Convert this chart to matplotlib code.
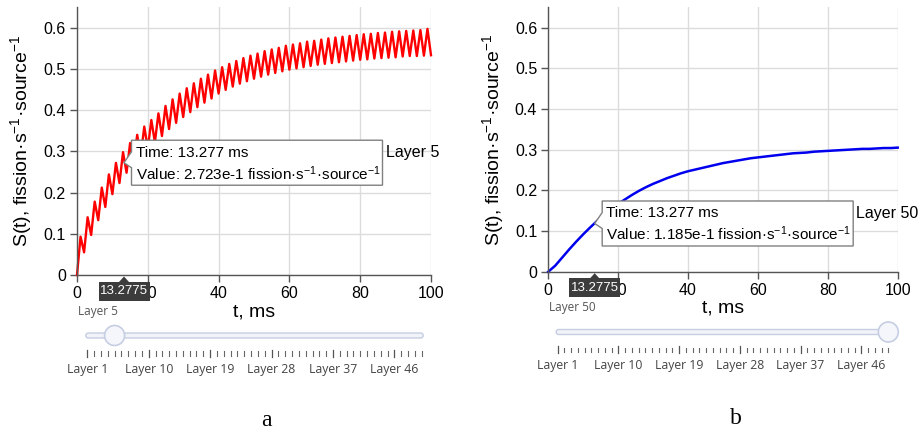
import numpy as np
import matplotlib
matplotlib.use('Agg')
import matplotlib.pyplot as plt
from matplotlib.patches import FancyBboxPatch, Circle, Polygon

plt.rcParams['font.family'] = ['Liberation Sans', 'DejaVu Sans']
plt.rcParams['mathtext.fontset'] = 'custom'
plt.rcParams['mathtext.rm'] = 'Liberation Sans'
plt.rcParams['mathtext.it'] = 'Liberation Sans:italic'
plt.rcParams['mathtext.default'] = 'regular'

# ---- values ----
# layer 5: pulsed response, peaks at odd ms, troughs at even ms
t5_peak = list(range(1, 100, 2))
s5_peak = [0.093, 0.140, 0.178, 0.212, 0.244, 0.272, 0.298, 0.320, 0.340, 0.360,
           0.376, 0.392, 0.410, 0.426, 0.440, 0.453, 0.465, 0.476, 0.486, 0.496,
           0.504, 0.512, 0.519, 0.526, 0.532, 0.537, 0.543, 0.547, 0.551, 0.556,
           0.559, 0.562, 0.566, 0.568, 0.571, 0.574, 0.576, 0.578, 0.580, 0.582,
           0.584, 0.585, 0.587, 0.588, 0.590, 0.591, 0.592, 0.593, 0.594, 0.597]
t5_trough = list(range(0, 101, 2))
s5_trough = [0.000, 0.055, 0.097, 0.133, 0.165, 0.196, 0.223, 0.248, 0.269, 0.288,
             0.307, 0.322, 0.337, 0.354, 0.369, 0.383, 0.395, 0.407, 0.418, 0.428,
             0.440, 0.449, 0.457, 0.464, 0.470, 0.476, 0.481, 0.486, 0.490, 0.494,
             0.498, 0.501, 0.504, 0.507, 0.510, 0.512, 0.514, 0.516, 0.518, 0.520,
             0.522, 0.523, 0.525, 0.526, 0.527, 0.528, 0.530, 0.531, 0.531, 0.532,
             0.533]

# layer 50: smooth response
t50 = list(range(0, 101, 2))
s50 = [0.000, 0.015, 0.035, 0.055, 0.074, 0.092, 0.109, 0.125, 0.140, 0.154,
       0.167, 0.178, 0.189, 0.199, 0.208, 0.216, 0.223, 0.230, 0.236, 0.242,
       0.247, 0.251, 0.255, 0.259, 0.263, 0.267, 0.270, 0.273, 0.276, 0.279,
       0.281, 0.283, 0.285, 0.287, 0.289, 0.291, 0.292, 0.293, 0.295, 0.296,
       0.297, 0.298, 0.299, 0.300, 0.301, 0.302, 0.302, 0.303, 0.304, 0.304,
       0.305]

cursor_t = 13.277
cursor_v5 = 0.2723
cursor_v50 = 0.1185
cursor_label = '13.2775'

x_ticks = [0, 20, 40, 60, 80, 100]
y_ticks = [0, 0.1, 0.2, 0.3, 0.4, 0.5, 0.6]
y_ticklabels = ['0', '0.1', '0.2', '0.3', '0.4', '0.5', '0.6']
n_layers = 50
layer_ticklabels = ['Layer 1', 'Layer 10', 'Layer 19', 'Layer 28', 'Layer 37', 'Layer 46']
major_layers = [1, 10, 19, 28, 37, 46]

ylabel = 'S(t), fission·s$^{-1}$·source$^{-1}$'
unit = 'fission·s$^{-1}$·source$^{-1}$'

# interleave troughs and peaks of layer 5
t5, s5 = [], []
for i in range(len(t5_peak)):
    t5 += [t5_trough[i], t5_peak[i]]
    s5 += [s5_trough[i], s5_peak[i]]
t5.append(t5_trough[-1])
s5.append(s5_trough[-1])

W, H = 919, 432
fig = plt.figure(figsize=(W / 100, H / 100), dpi=100)


def px_axes(x0, x1, ytop, ybot):
    return fig.add_axes([x0 / W, 1 - ybot / H, (x1 - x0) / W, (ybot - ytop) / H])


ax_a = px_axes(77, 431, 7, 275)
ax_b = px_axes(548.3, 897.7, 7.3, 271.7)

for ax in (ax_a, ax_b):
    ax.set_xlim(0, 100)
    ax.set_ylim(0, 0.65)
    ax.set_xticks(x_ticks)
    ax.set_yticks(y_ticks)
    ax.set_yticklabels(y_ticklabels)
    ax.grid(True, color='#dcdcdc', lw=1)
    ax.set_axisbelow(True)
    ax.spines['top'].set_visible(False)
    ax.spines['right'].set_visible(False)
    for s in ('left', 'bottom'):
        ax.spines[s].set_color('#555555')
        ax.spines[s].set_linewidth(1)
    ax.tick_params(direction='out', length=5, width=1, color='#555555',
                   labelsize=11.5, pad=3)
    ax.set_xlabel('t, ms', fontsize=14)
    ax.xaxis.set_label_coords(0.5, -0.105)
    ax.set_ylabel(ylabel, fontsize=14, va='center')
    ax.yaxis.set_label_coords(-0.158, 0.5)

ax_a.plot(t5, s5, color='#ff0000', lw=1.7, clip_on=False)
ax_b.plot(t50, s50, color='#0000ee', lw=1.8, clip_on=False)

# overlay in pixel units for the widget parts
ov = fig.add_axes([0, 0, 1, 1], zorder=10)
ov.set_xlim(0, W)
ov.set_ylim(H, 0)
ov.axis('off')
ov.patch.set_alpha(0)


def to_px(ax, x, y):
    return ov.transData.inverted().transform(ax.transData.transform((x, y)))


def tooltip(ax, t, v, value_text, layer_text):
    tx, ty = to_px(ax, t, v)
    x0 = tx + 7.5
    y0 = ty - 22.5
    w, h = 251, 45
    pts = [(x0, y0), (x0 + w, y0), (x0 + w, y0 + h), (x0, y0 + h),
           (x0, ty + 5), (tx, ty), (x0, ty - 11)]
    ov.add_patch(Polygon(pts, closed=True, fc='white', ec='#808080', lw=1))
    ov.text(x0 + 4, ty - 10, 'Time: %.3f ms' % t, fontsize=11, va='center', ha='left')
    ov.text(x0 + 4, ty + 10.5, 'Value: ' + value_text + ' ' + unit, fontsize=11,
            va='center', ha='left')
    ov.text(x0 + w + 3, ty - 10, layer_text, fontsize=11.5, va='center', ha='left')


def time_badge(ax, t):
    bx, by = to_px(ax, t, 0)
    top = by + 6.5
    ov.add_patch(Polygon([(bx - 5, top + 0.5), (bx, top - 5), (bx + 5, top + 0.5)],
                         closed=True, fc='#3c3c3c', ec='none'))
    ov.add_patch(FancyBboxPatch((bx - 25.5, top), 51, 19,
                                boxstyle='square,pad=0', fc='#3c3c3c', ec='none'))
    ov.text(bx, top + 9.5, cursor_label, color='white', fontsize=9.5,
            ha='center', va='center')


def slider(x0, x1, yc, layer):
    step = (x1 - x0) / (n_layers - 1)
    ov.add_patch(FancyBboxPatch((x0 - 1.5, yc - 2.5), x1 - x0 + 3, 5,
                                boxstyle='round,pad=0,rounding_size=2.5',
                                fc='#f1f3f9', ec='#c6cee2', lw=1))
    kx = x0 + (layer - 1) * step
    ov.add_patch(Circle((kx, yc), 10, fc='#f4f6fc', ec='#c6cee2', lw=1.2))
    for i in range(1, n_layers + 1):
        x = x0 + (i - 1) * step
        if i in major_layers:
            ov.plot([x, x], [yc + 14, yc + 21], color='#555555', lw=0.9)
        else:
            ov.plot([x, x], [yc + 15.5, yc + 20], color='#666666', lw=0.8)
    for lab, i in zip(layer_ticklabels, major_layers):
        ov.text(x0 + (i - 1) * step, yc + 34, lab, fontsize=8.8, color='#444444',
                family=['Open Sans', 'DejaVu Sans'], ha='center', va='center')
    ov.text(x0 - 9, yc - 24.5, 'Layer %d' % layer, fontsize=8.5, color='#555555',
            family=['Open Sans', 'DejaVu Sans'], ha='left', va='center')


tooltip(ax_a, cursor_t, cursor_v5, '2.723e-1', 'Layer 5')
tooltip(ax_b, cursor_t, cursor_v50, '1.185e-1', 'Layer 50')
time_badge(ax_a, cursor_t)
time_badge(ax_b, cursor_t)
slider(87.3, 421.7, 335.5, 5)
slider(557.7, 888.3, 332, 50)

ov.text(266, 420, 'a', fontsize=17, family='Liberation Serif', ha='center', va='center')
ov.text(736, 419, 'b', fontsize=17, family='Liberation Serif', ha='center', va='center')

fig.savefig('out.png', dpi=100)
